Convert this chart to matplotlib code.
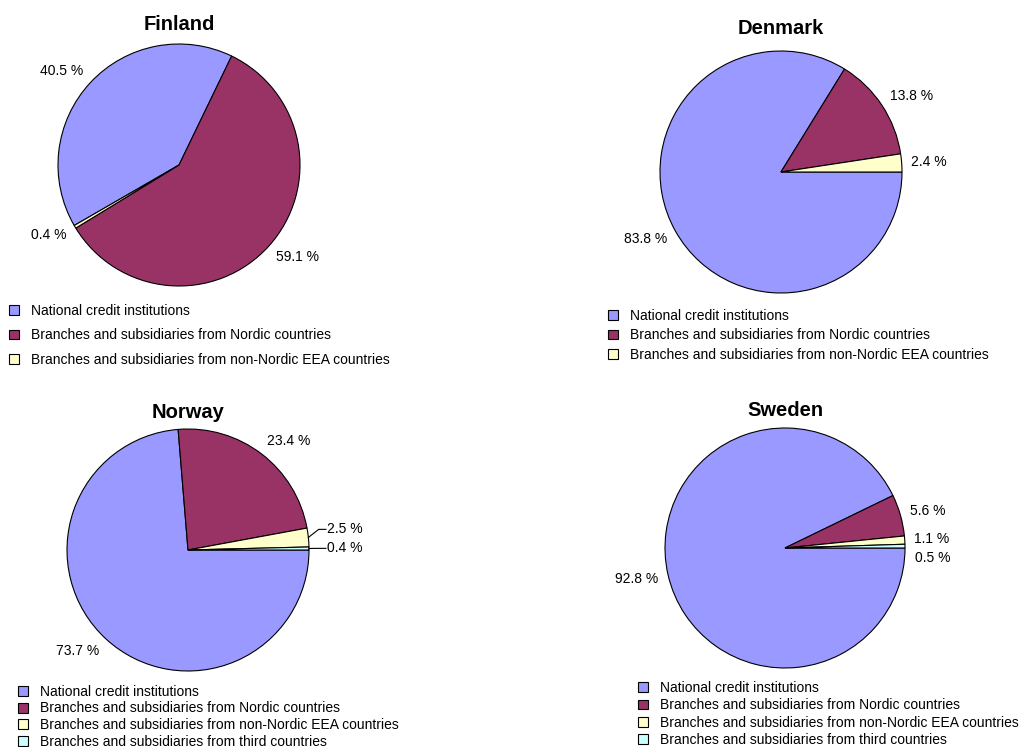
import numpy as np
import matplotlib
matplotlib.use("Agg")
import matplotlib.pyplot as plt

plt.rcParams['font.family'] = ['Liberation Sans', 'DejaVu Sans']

# Data
countries = ['Finland', 'Denmark', 'Norway', 'Sweden']
categories = ['National credit institutions',
              'Branches and subsidiaries from Nordic countries',
              'Branches and subsidiaries from non-Nordic EEA countries',
              'Branches and subsidiaries from third countries']
national = [40.5, 83.8, 73.7, 92.8]
nordic = [59.1, 13.8, 23.4, 5.6]
non_nordic = [0.4, 2.4, 2.5, 1.1]
third = [None, None, 0.4, 0.5]   # not reported for Finland and Denmark

colors = ['#9999FF', '#993366', '#FFFFCC', '#CCFFFF']

# Layout (pixels): pie centre, radius, start angle, title y, legend anchor, row spacing
W, H = 1023, 747
layout = {
    'Finland': dict(c=(179, 165), r=121, start=210, title_y=25, leg=(9, 304), sp=0.74, leader=False),
    'Denmark': dict(c=(781, 172), r=121, start=0, title_y=28, leg=(608, 309), sp=0.38, leader=False),
    'Norway':  dict(c=(188, 550), r=121, start=0, title_y=412, leg=(18, 685), sp=0.18, leader=True),
    'Sweden':  dict(c=(785, 548), r=120, start=0, title_y=410, leg=(638, 681), sp=0.24, leader=False),
}

fig = plt.figure(figsize=(W / 100, H / 100), dpi=100)
ext = 1.7

for i, country in enumerate(countries):
    lay = layout[country]
    cx, cy = lay['c']
    r = lay['r']
    vals = [national[i], nordic[i], non_nordic[i]]
    if third[i] is not None:
        vals.append(third[i])

    ax = fig.add_axes([(cx - ext * r) / W, 1 - (cy + ext * r) / H,
                       2 * ext * r / W, 2 * ext * r / H])
    wedges, _ = ax.pie(vals, colors=colors[:len(vals)], startangle=lay['start'],
                       counterclock=False,
                       wedgeprops=dict(edgecolor='black', linewidth=0.8))
    ax.set_xlim(-ext, ext)
    ax.set_ylim(-ext, ext)
    ax.axis('off')

    # label positions from wedge mid-angles
    labels = []
    for w, v in zip(wedges, vals):
        th = np.deg2rad((w.theta1 + w.theta2) / 2)
        labels.append([v, th, 1.08 * np.cos(th), 1.08 * np.sin(th)])

    gap = 19 / r
    right = [l for l in labels if np.cos(l[1]) > 0]
    if lay['leader']:
        small = sorted([l for l in right if l[0] < 3], key=lambda l: l[3])
        for a, b in zip(small, small[1:]):
            if b[3] - a[3] < gap:
                b[3] = a[3] + gap
    else:
        right = sorted(right, key=lambda l: -l[3])
        for a, b in zip(right, right[1:]):
            if a[3] - b[3] < gap:
                b[3] = a[3] - gap

    for v, th, x, y in labels:
        txt = f'{v:.1f} %'
        if lay['leader'] and v < 3:
            tx = 1.15
            ax.plot([np.cos(th), tx - 0.07, tx - 0.01], [np.sin(th), y, y],
                    color='black', lw=0.8)
            ax.text(tx, y, txt, ha='left', va='center', fontsize=10)
        else:
            ha = 'left' if np.cos(th) > 0 else 'right'
            ax.annotate(txt, xy=(x, y), xytext=(0, 5 * np.sin(th)),
                        textcoords='offset points', ha=ha, va='center', fontsize=10)

    fig.text(cx / W, 1 - lay['title_y'] / H, country, ha='center', va='center',
             fontsize=14.5, fontweight='bold')

    lx, ly = lay['leg']
    fig.legend(handles=wedges, labels=categories[:len(vals)], loc='upper left',
               bbox_to_anchor=(lx / W, 1 - ly / H), frameon=False, borderpad=0,
               borderaxespad=0, handlelength=0.7, handleheight=0.7,
               handletextpad=0.85, labelspacing=lay['sp'], fontsize=10)

fig.savefig('out.png', dpi=100)
